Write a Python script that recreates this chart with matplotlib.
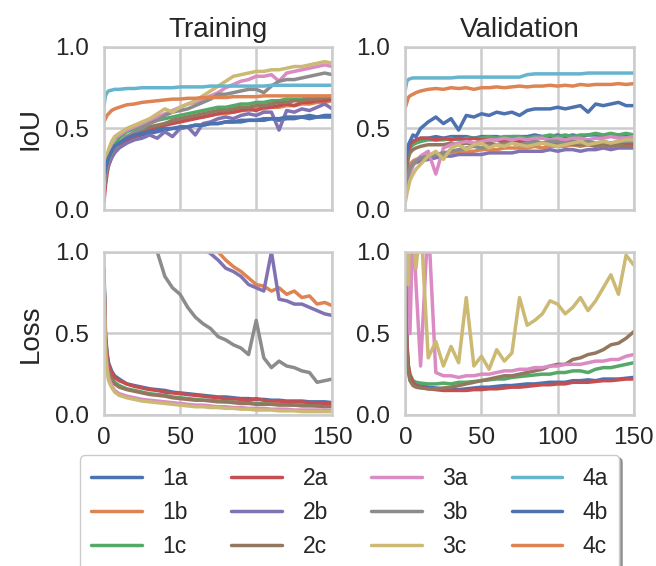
import numpy as np
import matplotlib
matplotlib.use("Agg")
import matplotlib.pyplot as plt
import seaborn as sns

sns.set_theme(style="whitegrid")
plt.rcParams['font.family'] = ['Liberation Sans', 'DejaVu Sans']

epochs = [0, 1, 2, 3, 5, 7, 10, 15, 20, 25, 30, 35, 40, 45, 50, 55, 60, 65, 70, 75,
          80, 85, 90, 95, 100, 105, 110, 115, 120, 125, 130, 135, 140, 145, 150]

names = ["1a", "1b", "1c", "2a", "2b", "2c", "3a", "3b", "3c", "4a", "4b", "4c"]
colors = ["#4C72B0", "#DD8452", "#55A868", "#C44E52", "#8172B3", "#937860",
          "#DA8BC3", "#8C8C8C", "#CCB974", "#64B5CD", "#4C72B0", "#DD8452"]

# ---- training IoU
trn_iou_1a = [0.15, 0.22, 0.27, 0.30, 0.34, 0.37, 0.40, 0.43, 0.45, 0.46, 0.47, 0.48, 0.49, 0.50, 0.50, 0.51, 0.52, 0.52, 0.53, 0.53, 0.54, 0.54, 0.54, 0.55, 0.55, 0.55, 0.56, 0.55, 0.56, 0.56, 0.57, 0.56, 0.57, 0.57, 0.57]
trn_iou_1b = [0.12, 0.20, 0.25, 0.28, 0.33, 0.36, 0.39, 0.43, 0.46, 0.48, 0.50, 0.51, 0.53, 0.54, 0.55, 0.56, 0.57, 0.57, 0.58, 0.59, 0.59, 0.60, 0.61, 0.61, 0.62, 0.62, 0.63, 0.63, 0.64, 0.64, 0.65, 0.65, 0.66, 0.66, 0.67]
trn_iou_1c = [0.14, 0.22, 0.28, 0.32, 0.37, 0.40, 0.44, 0.48, 0.50, 0.52, 0.54, 0.55, 0.56, 0.57, 0.58, 0.59, 0.60, 0.61, 0.62, 0.63, 0.63, 0.64, 0.65, 0.65, 0.66, 0.66, 0.67, 0.67, 0.68, 0.68, 0.68, 0.69, 0.69, 0.69, 0.70]
trn_iou_2a = [0.05, 0.15, 0.22, 0.27, 0.32, 0.36, 0.39, 0.43, 0.45, 0.47, 0.49, 0.50, 0.52, 0.53, 0.54, 0.55, 0.56, 0.57, 0.58, 0.59, 0.60, 0.60, 0.61, 0.62, 0.61, 0.63, 0.63, 0.64, 0.65, 0.64, 0.66, 0.66, 0.67, 0.67, 0.68]
trn_iou_2b = [0.12, 0.20, 0.25, 0.28, 0.32, 0.35, 0.38, 0.41, 0.43, 0.44, 0.46, 0.44, 0.48, 0.45, 0.50, 0.51, 0.46, 0.53, 0.54, 0.56, 0.57, 0.56, 0.58, 0.59, 0.58, 0.60, 0.60, 0.49, 0.61, 0.60, 0.62, 0.61, 0.63, 0.65, 0.62]
trn_iou_2c = [0.15, 0.22, 0.27, 0.31, 0.35, 0.38, 0.41, 0.45, 0.47, 0.49, 0.51, 0.52, 0.53, 0.55, 0.56, 0.57, 0.58, 0.59, 0.60, 0.61, 0.61, 0.62, 0.63, 0.63, 0.64, 0.64, 0.65, 0.66, 0.66, 0.67, 0.67, 0.68, 0.68, 0.69, 0.69]
trn_iou_3a = [0.15, 0.25, 0.32, 0.36, 0.41, 0.44, 0.46, 0.49, 0.51, 0.53, 0.55, 0.57, 0.59, 0.61, 0.63, 0.65, 0.66, 0.68, 0.70, 0.72, 0.75, 0.77, 0.79, 0.80, 0.82, 0.82, 0.83, 0.79, 0.84, 0.85, 0.86, 0.87, 0.88, 0.89, 0.88]
trn_iou_3b = [0.12, 0.20, 0.26, 0.30, 0.35, 0.38, 0.41, 0.45, 0.48, 0.50, 0.53, 0.55, 0.58, 0.60, 0.61, 0.62, 0.64, 0.66, 0.68, 0.71, 0.71, 0.72, 0.73, 0.74, 0.74, 0.72, 0.76, 0.79, 0.80, 0.80, 0.81, 0.82, 0.83, 0.84, 0.83]
trn_iou_3c = [0.15, 0.27, 0.33, 0.37, 0.42, 0.45, 0.47, 0.50, 0.52, 0.54, 0.56, 0.59, 0.62, 0.60, 0.63, 0.65, 0.67, 0.70, 0.73, 0.76, 0.79, 0.82, 0.83, 0.84, 0.85, 0.85, 0.86, 0.86, 0.87, 0.88, 0.88, 0.89, 0.90, 0.91, 0.90]
trn_iou_4a = [0.64, 0.70, 0.72, 0.73, 0.735, 0.74, 0.74, 0.745, 0.745, 0.75, 0.75, 0.75, 0.75, 0.75, 0.755, 0.755, 0.755, 0.755, 0.76, 0.76, 0.76, 0.76, 0.76, 0.76, 0.76, 0.76, 0.765, 0.765, 0.765, 0.765, 0.765, 0.765, 0.765, 0.765, 0.765]
trn_iou_4b = [0.18, 0.25, 0.29, 0.32, 0.36, 0.39, 0.41, 0.44, 0.46, 0.47, 0.48, 0.49, 0.50, 0.50, 0.51, 0.51, 0.52, 0.52, 0.53, 0.53, 0.54, 0.54, 0.55, 0.55, 0.55, 0.56, 0.56, 0.56, 0.57, 0.57, 0.57, 0.58, 0.57, 0.58, 0.58]
trn_iou_4c = [0.54, 0.56, 0.58, 0.59, 0.61, 0.62, 0.63, 0.645, 0.65, 0.66, 0.665, 0.67, 0.675, 0.68, 0.68, 0.685, 0.685, 0.69, 0.69, 0.69, 0.69, 0.695, 0.695, 0.695, 0.695, 0.70, 0.70, 0.70, 0.70, 0.70, 0.70, 0.70, 0.70, 0.70, 0.70]

# ---- validation IoU
val_iou_1a = [0.25, 0.33, 0.38, 0.40, 0.42, 0.43, 0.44, 0.44, 0.45, 0.44, 0.45, 0.45, 0.45, 0.44, 0.45, 0.45, 0.45, 0.44, 0.45, 0.45, 0.45, 0.46, 0.45, 0.45, 0.46, 0.45, 0.46, 0.45, 0.46, 0.46, 0.45, 0.46, 0.46, 0.46, 0.46]
val_iou_1b = [0.15, 0.22, 0.26, 0.28, 0.30, 0.31, 0.32, 0.33, 0.34, 0.35, 0.35, 0.36, 0.36, 0.36, 0.37, 0.37, 0.37, 0.38, 0.38, 0.38, 0.38, 0.39, 0.38, 0.39, 0.39, 0.39, 0.40, 0.39, 0.40, 0.40, 0.40, 0.40, 0.40, 0.41, 0.41]
val_iou_1c = [0.20, 0.30, 0.35, 0.38, 0.40, 0.41, 0.42, 0.43, 0.43, 0.43, 0.44, 0.43, 0.44, 0.44, 0.44, 0.45, 0.44, 0.45, 0.45, 0.45, 0.44, 0.45, 0.45, 0.46, 0.45, 0.46, 0.45, 0.46, 0.46, 0.47, 0.46, 0.47, 0.46, 0.47, 0.46]
val_iou_2a = [0.18, 0.30, 0.36, 0.40, 0.42, 0.43, 0.44, 0.44, 0.43, 0.44, 0.43, 0.44, 0.43, 0.44, 0.43, 0.43, 0.43, 0.42, 0.43, 0.42, 0.42, 0.42, 0.41, 0.42, 0.41, 0.41, 0.42, 0.41, 0.41, 0.40, 0.41, 0.40, 0.41, 0.40, 0.40]
val_iou_2b = [0.12, 0.18, 0.22, 0.25, 0.28, 0.29, 0.30, 0.31, 0.32, 0.33, 0.33, 0.34, 0.34, 0.34, 0.34, 0.35, 0.35, 0.35, 0.35, 0.36, 0.36, 0.36, 0.36, 0.37, 0.36, 0.37, 0.37, 0.36, 0.37, 0.37, 0.38, 0.37, 0.38, 0.38, 0.38]
val_iou_2c = [0.18, 0.26, 0.32, 0.35, 0.37, 0.38, 0.39, 0.40, 0.40, 0.40, 0.41, 0.40, 0.41, 0.40, 0.41, 0.41, 0.40, 0.41, 0.41, 0.40, 0.41, 0.40, 0.41, 0.40, 0.40, 0.41, 0.40, 0.40, 0.40, 0.39, 0.40, 0.39, 0.40, 0.39, 0.39]
val_iou_3a = [0.10, 0.14, 0.18, 0.22, 0.27, 0.30, 0.33, 0.36, 0.22, 0.38, 0.40, 0.41, 0.42, 0.41, 0.42, 0.43, 0.43, 0.44, 0.43, 0.44, 0.43, 0.44, 0.44, 0.43, 0.44, 0.43, 0.44, 0.44, 0.43, 0.44, 0.44, 0.45, 0.44, 0.44, 0.45]
val_iou_3b = [0.12, 0.18, 0.22, 0.25, 0.28, 0.30, 0.32, 0.33, 0.34, 0.35, 0.36, 0.37, 0.38, 0.39, 0.38, 0.39, 0.40, 0.40, 0.41, 0.40, 0.41, 0.42, 0.41, 0.42, 0.42, 0.41, 0.42, 0.41, 0.42, 0.41, 0.42, 0.41, 0.42, 0.42, 0.42]
val_iou_3c = [0.05, 0.10, 0.14, 0.18, 0.22, 0.25, 0.28, 0.33, 0.36, 0.31, 0.38, 0.40, 0.37, 0.40, 0.41, 0.38, 0.40, 0.39, 0.41, 0.40, 0.39, 0.40, 0.41, 0.40, 0.39, 0.40, 0.41, 0.42, 0.40, 0.41, 0.42, 0.41, 0.42, 0.43, 0.43]
val_iou_4a = [0.74, 0.79, 0.80, 0.805, 0.81, 0.81, 0.81, 0.81, 0.81, 0.81, 0.81, 0.815, 0.815, 0.815, 0.815, 0.815, 0.815, 0.815, 0.815, 0.815, 0.83, 0.835, 0.835, 0.835, 0.835, 0.835, 0.835, 0.835, 0.84, 0.84, 0.84, 0.84, 0.84, 0.84, 0.84]
val_iou_4b = [0.28, 0.35, 0.40, 0.42, 0.46, 0.45, 0.50, 0.54, 0.57, 0.53, 0.56, 0.49, 0.58, 0.57, 0.59, 0.58, 0.60, 0.59, 0.60, 0.58, 0.61, 0.62, 0.62, 0.62, 0.63, 0.62, 0.63, 0.64, 0.60, 0.65, 0.64, 0.65, 0.66, 0.64, 0.64]
val_iou_4c = [0.63, 0.66, 0.69, 0.70, 0.71, 0.72, 0.73, 0.74, 0.745, 0.74, 0.75, 0.745, 0.75, 0.74, 0.75, 0.75, 0.755, 0.75, 0.755, 0.76, 0.755, 0.76, 0.76, 0.765, 0.76, 0.765, 0.76, 0.77, 0.765, 0.77, 0.77, 0.77, 0.775, 0.77, 0.775]

# ---- training loss (4a/4b/4c never enter the 0-1 window)
trn_loss_1a = [0.90, 0.50, 0.38, 0.32, 0.27, 0.24, 0.22, 0.19, 0.18, 0.17, 0.16, 0.155, 0.15, 0.14, 0.135, 0.13, 0.125, 0.12, 0.115, 0.11, 0.11, 0.105, 0.10, 0.10, 0.095, 0.095, 0.09, 0.09, 0.085, 0.085, 0.085, 0.08, 0.08, 0.08, 0.075]
trn_loss_1b = [2.4, 2.2, 2.1, 2.0, 1.9, 1.8, 1.7, 1.6, 1.5, 1.45, 1.4, 1.35, 1.3, 1.25, 1.2, 1.15, 1.1, 1.08, 1.04, 1.0, 0.95, 0.91, 0.88, 0.84, 0.80, 0.79, 0.76, 0.78, 0.74, 0.76, 0.72, 0.73, 0.68, 0.69, 0.67]
trn_loss_1c = [0.85, 0.45, 0.34, 0.28, 0.23, 0.20, 0.18, 0.16, 0.15, 0.14, 0.13, 0.125, 0.12, 0.11, 0.105, 0.10, 0.095, 0.09, 0.09, 0.085, 0.08, 0.08, 0.075, 0.075, 0.07, 0.07, 0.065, 0.065, 0.065, 0.06, 0.06, 0.06, 0.055, 0.055, 0.055]
trn_loss_2a = [0.85, 0.48, 0.37, 0.31, 0.26, 0.23, 0.21, 0.19, 0.175, 0.165, 0.155, 0.15, 0.14, 0.135, 0.13, 0.125, 0.12, 0.115, 0.11, 0.105, 0.10, 0.10, 0.095, 0.09, 0.10, 0.09, 0.085, 0.085, 0.08, 0.08, 0.08, 0.075, 0.075, 0.07, 0.07]
trn_loss_2b = [2.5, 2.3, 2.2, 2.1, 2.0, 1.9, 1.8, 1.7, 1.6, 1.5, 1.42, 1.35, 1.28, 1.2, 1.15, 1.1, 1.06, 1.02, 0.99, 0.95, 0.90, 0.88, 0.85, 0.80, 0.78, 0.76, 1.0, 0.71, 0.70, 0.68, 0.68, 0.66, 0.64, 0.62, 0.61]
trn_loss_2c = [0.85, 0.44, 0.33, 0.27, 0.22, 0.19, 0.17, 0.155, 0.145, 0.135, 0.125, 0.12, 0.115, 0.105, 0.10, 0.095, 0.09, 0.09, 0.085, 0.08, 0.08, 0.075, 0.07, 0.07, 0.065, 0.065, 0.065, 0.06, 0.06, 0.06, 0.055, 0.055, 0.055, 0.05, 0.05]
trn_loss_3a = [0.80, 0.40, 0.29, 0.23, 0.18, 0.15, 0.13, 0.115, 0.105, 0.095, 0.09, 0.085, 0.08, 0.075, 0.07, 0.065, 0.06, 0.06, 0.055, 0.05, 0.05, 0.045, 0.045, 0.04, 0.04, 0.04, 0.035, 0.035, 0.035, 0.03, 0.03, 0.03, 0.03, 0.03, 0.025]
trn_loss_3b = [2.5, 2.3, 2.2, 2.0, 1.9, 1.75, 1.6, 1.45, 1.3, 1.2, 1.1, 1.0, 0.85, 0.78, 0.74, 0.66, 0.60, 0.56, 0.53, 0.48, 0.46, 0.43, 0.41, 0.37, 0.58, 0.35, 0.29, 0.33, 0.30, 0.29, 0.27, 0.26, 0.20, 0.21, 0.22]
trn_loss_3c = [0.80, 0.38, 0.27, 0.21, 0.17, 0.14, 0.12, 0.105, 0.095, 0.085, 0.08, 0.075, 0.07, 0.065, 0.06, 0.055, 0.05, 0.05, 0.045, 0.045, 0.04, 0.04, 0.035, 0.035, 0.03, 0.03, 0.03, 0.025, 0.025, 0.025, 0.02, 0.02, 0.02, 0.02, 0.02]

# ---- validation loss (only the series that show inside 0-1)
val_loss_1a = [0.90, 0.40, 0.28, 0.23, 0.20, 0.19, 0.18, 0.17, 0.165, 0.16, 0.16, 0.155, 0.16, 0.165, 0.17, 0.17, 0.175, 0.18, 0.18, 0.185, 0.19, 0.19, 0.195, 0.20, 0.20, 0.20, 0.21, 0.21, 0.215, 0.21, 0.22, 0.22, 0.22, 0.225, 0.23]
val_loss_1c = [0.95, 0.42, 0.30, 0.25, 0.21, 0.20, 0.195, 0.19, 0.19, 0.195, 0.19, 0.20, 0.20, 0.205, 0.21, 0.215, 0.22, 0.22, 0.23, 0.235, 0.24, 0.245, 0.25, 0.25, 0.26, 0.26, 0.27, 0.27, 0.26, 0.28, 0.29, 0.29, 0.30, 0.31, 0.32]
val_loss_2a = [1.00, 0.45, 0.30, 0.24, 0.20, 0.18, 0.17, 0.16, 0.155, 0.15, 0.15, 0.15, 0.15, 0.155, 0.155, 0.16, 0.16, 0.165, 0.17, 0.17, 0.175, 0.18, 0.185, 0.185, 0.19, 0.19, 0.20, 0.20, 0.20, 0.205, 0.21, 0.21, 0.215, 0.22, 0.22]
val_loss_2c = [0.90, 0.38, 0.26, 0.21, 0.18, 0.17, 0.165, 0.16, 0.16, 0.165, 0.17, 0.18, 0.19, 0.20, 0.21, 0.22, 0.23, 0.24, 0.24, 0.25, 0.26, 0.27, 0.28, 0.30, 0.31, 0.31, 0.34, 0.35, 0.37, 0.38, 0.40, 0.43, 0.44, 0.47, 0.51]
val_loss_3a = [1.20, 0.90, 1.30, 0.50, 1.20, 0.80, 0.30, 1.20, 0.26, 0.24, 0.24, 0.23, 0.24, 0.24, 0.25, 0.25, 0.26, 0.27, 0.27, 0.28, 0.28, 0.29, 0.29, 0.30, 0.30, 0.31, 0.31, 0.31, 0.32, 0.33, 0.33, 0.34, 0.34, 0.36, 0.37]
val_loss_3c = [1.50, 1.20, 0.80, 1.30, 1.10, 0.90, 1.20, 0.35, 0.45, 0.30, 0.42, 0.32, 0.72, 0.30, 0.36, 0.28, 0.40, 0.33, 0.38, 0.72, 0.55, 0.58, 0.62, 0.70, 0.68, 0.62, 0.66, 0.72, 0.64, 0.70, 0.78, 0.86, 0.74, 0.98, 0.92]

panels = [
    {"1a": trn_iou_1a, "1b": trn_iou_1b, "1c": trn_iou_1c, "2a": trn_iou_2a, "2b": trn_iou_2b, "2c": trn_iou_2c,
     "3a": trn_iou_3a, "3b": trn_iou_3b, "3c": trn_iou_3c, "4a": trn_iou_4a, "4b": trn_iou_4b, "4c": trn_iou_4c},
    {"1a": val_iou_1a, "1b": val_iou_1b, "1c": val_iou_1c, "2a": val_iou_2a, "2b": val_iou_2b, "2c": val_iou_2c,
     "3a": val_iou_3a, "3b": val_iou_3b, "3c": val_iou_3c, "4a": val_iou_4a, "4b": val_iou_4b, "4c": val_iou_4c},
    {"1a": trn_loss_1a, "1b": trn_loss_1b, "1c": trn_loss_1c, "2a": trn_loss_2a, "2b": trn_loss_2b, "2c": trn_loss_2c,
     "3a": trn_loss_3a, "3b": trn_loss_3b, "3c": trn_loss_3c},
    {"1a": val_loss_1a, "1c": val_loss_1c, "2a": val_loss_2a, "2c": val_loss_2c, "3a": val_loss_3a, "3c": val_loss_3c},
]

fig, axs = plt.subplots(2, 2, figsize=(6.56, 5.66), dpi=100, sharex=True)
fig.subplots_adjust(left=0.1585, right=0.966, top=0.917, bottom=0.267, wspace=0.32, hspace=0.258)

for ax, data in zip(axs.flat, panels):
    for name, col in zip(names, colors):
        if name in data:
            ax.plot(epochs, data[name], color=col, lw=2.5, label=name)
    ax.set_xlim(0, 150)
    ax.set_ylim(0, 1)
    ax.set_xticks([0, 50, 100, 150])
    ax.set_yticks([0, 0.5, 1.0])
    ax.set_yticklabels(["0.0", "0.5", "1.0"])
    ax.tick_params(labelsize=17.5, length=0)
    ax.tick_params(axis="y", pad=11)
    ax.tick_params(axis="x", pad=9)
    ax.grid(True, color="#cccccc", lw=1.8)
    for sp in ax.spines.values():
        sp.set_color("#cccccc")
        sp.set_linewidth(1.8)

axs[0, 0].set_title("Training", fontsize=20, pad=7)
axs[0, 1].set_title("Validation", fontsize=20, pad=7)
axs[0, 0].set_ylabel("IoU", fontsize=20, labelpad=8)
axs[1, 0].set_ylabel("Loss", fontsize=20, labelpad=8)

handles, labels = axs[0, 0].get_legend_handles_labels()
leg = fig.legend(handles, labels, loc="upper center", bbox_to_anchor=(0.533, 0.196), ncol=4,
                 fontsize=16.5, shadow=True, frameon=True, handlelength=2.2, borderaxespad=0,
                 columnspacing=1.9, handletextpad=0.9, borderpad=0.5, labelspacing=0.5)
leg.get_frame().set_edgecolor("#cccccc")

plt.savefig("out.png", dpi=100)
